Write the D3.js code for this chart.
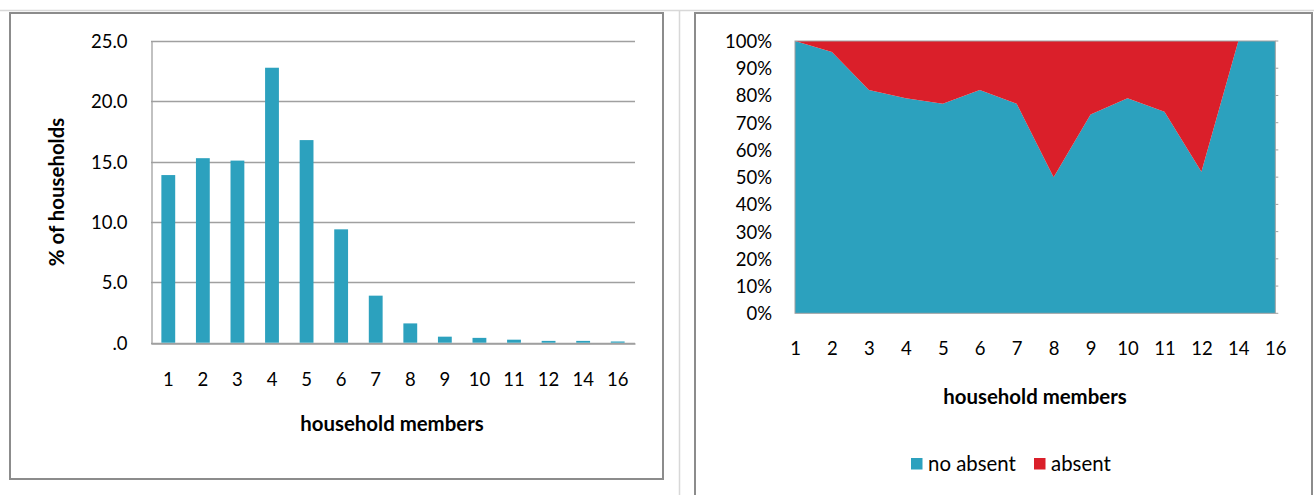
<!DOCTYPE html>
<html>
<head>
<meta charset="utf-8">
<script src="https://cdn.jsdelivr.net/npm/d3@7"></script>
<style>
  html, body { margin: 0; padding: 0; background: #fff; }
  svg { display: block; }
  text { font-family: "Lato", "Open Sans", "DejaVu Sans", sans-serif; fill: #000; }
</style>
</head>
<body>
<svg id="chart" width="1314" height="495"></svg>
<script>
// Household size categories (number of members)
const categories = ["1", "2", "3", "4", "5", "6", "7", "8", "9", "10", "11", "12", "14", "16"];

// Share of households by size, in percent
const pctHouseholds = [13.9, 15.3, 15.1, 22.8, 16.8, 9.4, 3.9, 1.6, 0.5, 0.4, 0.25, 0.15, 0.15, 0.1];

// Households with / without an absent member, percent within each size
const noAbsent = [100, 96, 82, 79, 77, 82, 77, 50, 73, 79, 74, 52, 100, 100];
const absent   = [0, 4, 18, 21, 23, 18, 23, 50, 27, 21, 26, 48, 0, 0];

// Tick values and labels
const leftTicks = [0, 5, 10, 15, 20, 25];
const leftTickLabels = [".0", "5.0", "10.0", "15.0", "20.0", "25.0"];
const rightTicks = [0, 10, 20, 30, 40, 50, 60, 70, 80, 90, 100];
const rightTickLabels = ["0%", "10%", "20%", "30%", "40%", "50%", "60%", "70%", "80%", "90%", "100%"];

const seriesNames = ["no absent", "absent"];
const colors = { "no absent": "#2ca1be", "absent": "#da1f2a" };

const axisGray = "#a0a0a0";
const frameGray = "#8c8c8c";
const fontSize = 18.5;
const titleSize = 20.4;

const svg = d3.select("#chart");

// Window chrome: faint separator lines
svg.append("line").attr("x1", 0).attr("x2", 1314).attr("y1", 10.5).attr("y2", 10.5)
  .attr("stroke", "#d8d8d8").attr("stroke-width", 1.5);
svg.append("line").attr("x1", 679.5).attr("x2", 679.5).attr("y1", 10).attr("y2", 495)
  .attr("stroke", "#d8d8d8").attr("stroke-width", 1.5);

// Panel frames
svg.append("rect").attr("x", 10).attr("y", 13).attr("width", 653).attr("height", 466)
  .attr("fill", "#fff").attr("stroke", frameGray).attr("stroke-width", 2);
svg.append("rect").attr("x", 695).attr("y", 13).attr("width", 617).attr("height", 500)
  .attr("fill", "#fff").attr("stroke", frameGray).attr("stroke-width", 2);

// ---------- Left: bar chart of household size distribution ----------
const L = { left: 151, right: 635, top: 41.2, bottom: 342.7 };

const xBand = d3.scaleBand().domain(categories).range([L.left, L.right]).paddingInner(0.6).paddingOuter(0.3);
const yLeft = d3.scaleLinear().domain([0, 25]).range([L.bottom, L.top]);

const left = svg.append("g");

// gridlines
left.selectAll("line.grid").data(leftTicks).join("line")
  .attr("class", "grid")
  .attr("x1", L.left).attr("x2", L.right)
  .attr("y1", d => Math.round(yLeft(d)) + 0.5).attr("y2", d => Math.round(yLeft(d)) + 0.5)
  .attr("stroke", axisGray).attr("stroke-width", 1.3);

// y axis
const yAxisL = d3.axisLeft(yLeft).tickValues(leftTicks)
  .tickFormat((d, i) => leftTickLabels[i]).tickSize(0).tickPadding(24);
const gyL = left.append("g").attr("transform", `translate(${L.left + 0.5},0)`).call(yAxisL);
gyL.select(".domain").attr("stroke", axisGray).attr("stroke-width", 1.3);
gyL.selectAll("text").style("font-size", fontSize + "px").attr("dy", "0.35em");

// bars
left.selectAll("rect.bar").data(categories).join("rect")
  .attr("class", "bar")
  .attr("x", d => xBand(d))
  .attr("width", xBand.bandwidth())
  .attr("y", (d, i) => yLeft(pctHouseholds[i]))
  .attr("height", (d, i) => yLeft(0) - yLeft(pctHouseholds[i]))
  .attr("fill", colors["no absent"]);

// x axis
const xAxisL = d3.axisBottom(xBand).tickSize(0).tickPadding(29);
const gxL = left.append("g").attr("transform", `translate(0,${Math.round(L.bottom) + 0.5})`).call(xAxisL);
gxL.select(".domain").attr("stroke", axisGray).attr("stroke-width", 1.3);
gxL.selectAll("text").style("font-size", fontSize + "px");

// axis titles
left.append("text").attr("x", 392).attr("y", 431)
  .attr("text-anchor", "middle").style("font-size", titleSize + "px").style("font-weight", "bold")
  .text("household members");
left.append("text").attr("transform", "translate(64,192) rotate(-90)")
  .attr("text-anchor", "middle").style("font-size", titleSize + "px").style("font-weight", "bold")
  .text("% of households");

// ---------- Right: 100% stacked area of absent members ----------
const R = { left: 795, right: 1275.3, top: 41, bottom: 313.3 };

const xPoint = d3.scalePoint().domain(categories).range([R.left, R.right]);
const yRight = d3.scaleLinear().domain([0, 1]).range([R.bottom, R.top]);

const rows = categories.map((c, i) => ({ cat: c, "no absent": noAbsent[i], "absent": absent[i] }));
const stacked = d3.stack().keys(seriesNames).offset(d3.stackOffsetExpand)(rows);

const area = d3.area()
  .x(d => xPoint(d.data.cat))
  .y0(d => yRight(d[0]))
  .y1(d => yRight(d[1]));

const right = svg.append("g");

right.selectAll("path.layer").data(stacked).join("path")
  .attr("class", "layer")
  .attr("d", area)
  .attr("fill", d => colors[d.key]);

// plot area outline
right.append("rect").attr("x", R.left).attr("y", R.top)
  .attr("width", R.right - R.left).attr("height", R.bottom - R.top)
  .attr("fill", "none").attr("stroke", axisGray).attr("stroke-width", 1);

// small marks on the right edge at each 10%
right.selectAll("line.rtick").data(rightTicks).join("line")
  .attr("class", "rtick")
  .attr("x1", R.right).attr("x2", R.right + 3)
  .attr("y1", d => yRight(d / 100)).attr("y2", d => yRight(d / 100))
  .attr("stroke", axisGray).attr("stroke-width", 1);

// y axis
const yAxisR = d3.axisLeft(yRight).tickValues(rightTicks.map(d => d / 100))
  .tickFormat((d, i) => rightTickLabels[i]).tickSize(0).tickPadding(23);
const gyR = right.append("g").attr("transform", `translate(${R.left},0)`).call(yAxisR);
gyR.select(".domain").remove();
gyR.selectAll("text").style("font-size", fontSize + "px").attr("dy", "0.35em");

// x axis
const xAxisR = d3.axisBottom(xPoint).tickSize(0).tickPadding(29);
const gxR = right.append("g").attr("transform", `translate(0,${R.bottom})`).call(xAxisR);
gxR.select(".domain").remove();
gxR.selectAll("text").style("font-size", fontSize + "px");

right.append("text").attr("x", 1035).attr("y", 404)
  .attr("text-anchor", "middle").style("font-size", titleSize + "px").style("font-weight", "bold")
  .text("household members");

// legend
const legendItems = [
  { key: "no absent", x: 911 },
  { key: "absent", x: 1034 }
];
const lg = right.selectAll("g.legend").data(legendItems).join("g")
  .attr("class", "legend").attr("transform", d => `translate(${d.x},458)`);
lg.append("rect").attr("width", 11.5).attr("height", 11.5).attr("fill", d => colors[d.key]);
lg.append("text").attr("x", 17).attr("y", 6).attr("dy", "0.35em")
  .style("font-size", titleSize + "px").text(d => d.key);
</script>
</body>
</html>
